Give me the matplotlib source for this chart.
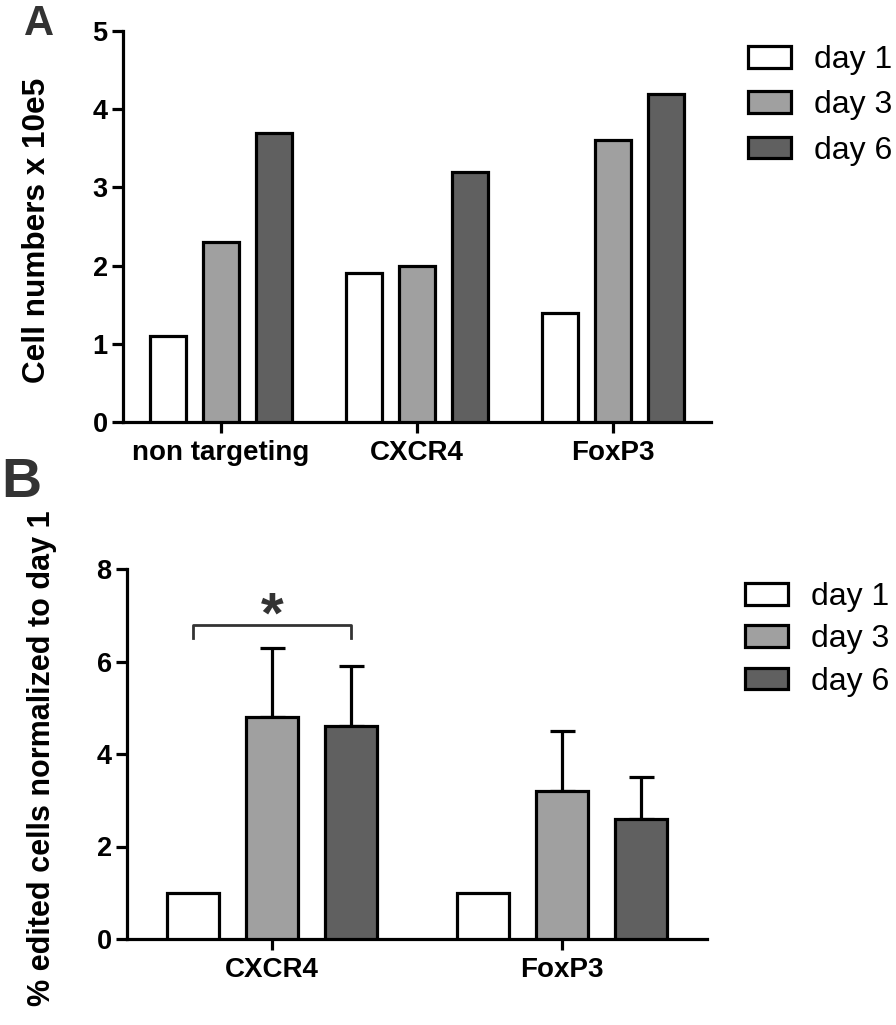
import matplotlib
matplotlib.use('Agg')
import matplotlib.pyplot as plt
import numpy as np

plt.rcParams['font.family'] = ['Liberation Sans', 'DejaVu Sans']

# data
days = ['day 1', 'day 3', 'day 6']
day_colors = ['#ffffff', '#a0a0a0', '#606060']

groups_a = ['non targeting', 'CXCR4', 'FoxP3']
cells_day1 = [1.1, 1.9, 1.4]
cells_day3 = [2.3, 2.0, 3.6]
cells_day6 = [3.7, 3.2, 4.2]

groups_b = ['CXCR4', 'FoxP3']
edited_day1 = [1.0, 1.0]
edited_day3 = [4.8, 3.2]
edited_day6 = [4.6, 2.6]
err_day3 = [1.5, 1.3]
err_day6 = [1.3, 0.9]

LW = 2.3
W, H = 896, 1025

fig = plt.figure(figsize=(W / 100, H / 100), dpi=100)


def style_axis(ax):
    ax.spines['top'].set_visible(False)
    ax.spines['right'].set_visible(False)
    ax.spines['left'].set_linewidth(LW)
    ax.spines['bottom'].set_linewidth(LW)
    ax.tick_params(axis='both', direction='out', length=8, width=LW, pad=3)
    ax.tick_params(axis='y', labelsize=19.5)
    ax.tick_params(axis='x', labelsize=20, pad=5)
    for lab in ax.get_xticklabels() + ax.get_yticklabels():
        lab.set_fontweight('bold')


def grouped_bars(ax, series, width, offset, errs=None):
    x = np.arange(len(series[0]))
    for i, vals in enumerate(series):
        pos = x + (i - 1) * offset
        ax.bar(pos, vals, width, color=day_colors[i], edgecolor='black',
               linewidth=LW, label=days[i], zorder=3)
        if errs is not None and errs[i] is not None:
            ax.errorbar(pos, vals, yerr=[np.zeros(len(vals)), errs[i]], fmt='none',
                        ecolor='black', elinewidth=LW, capsize=9, capthick=LW, zorder=2)


def add_legend(ax, left_px, top_px, spacing):
    ax.legend(loc='upper left', bbox_to_anchor=(left_px / W, 1 - top_px / H),
              bbox_transform=fig.transFigure, frameon=False, fontsize=23,
              handlelength=1.35, handleheight=0.66, handletextpad=0.72,
              labelspacing=spacing, borderpad=0, borderaxespad=0)


# panel A
ax_a = fig.add_axes([123 / W, 1 - 422 / H, (711 - 123) / W, (422 - 31) / H])
grouped_bars(ax_a, [cells_day1, cells_day3, cells_day6], 0.185, 0.27)
ax_a.set_xlim(-0.5, 2.5)
ax_a.set_ylim(0, 5)
ax_a.set_xticks(np.arange(len(groups_a)))
ax_a.set_xticklabels(groups_a)
ax_a.set_yticks([0, 1, 2, 3, 4, 5])
ax_a.set_ylabel('Cell numbers x 10e5', fontsize=22.7, fontweight='bold')
ax_a.yaxis.set_label_coords(-0.121, 0.49)
style_axis(ax_a)
add_legend(ax_a, 748, 45, 0.48)

# panel B
ax_b = fig.add_axes([127 / W, 1 - 939 / H, (707 - 127) / W, (939 - 569) / H])
grouped_bars(ax_b, [edited_day1, edited_day3, edited_day6], 0.18, 0.273,
             errs=[None, err_day3, err_day6])
ax_b.set_xlim(-0.5, 1.5)
ax_b.set_ylim(0, 8)
ax_b.set_xticks(np.arange(len(groups_b)))
ax_b.set_xticklabels(groups_b)
ax_b.set_yticks([0, 2, 4, 6, 8])
ax_b.set_ylabel('% edited cells normalized to day 1', fontsize=22, fontweight='bold')
ax_b.yaxis.set_label_coords(-0.121, 0.49)
style_axis(ax_b)
add_legend(ax_b, 745, 582, 0.39)

# significance bracket between day 1 and day 6 of CXCR4
ax_b.plot([-0.273, -0.273, 0.273, 0.273], [6.51, 6.79, 6.79, 6.51], color='#333333',
          linewidth=2.0, clip_on=False)
ax_b.text(0, 6.62, '*', ha='center', va='baseline', fontsize=42, fontweight='bold', color='#333333')

# panel letters
fig.text(39 / W, 1 - 24 / H, 'A', ha='center', va='center', fontsize=30, fontweight='bold', color='#333333')
fig.text(1 / W, 1 - 483 / H, 'B', ha='left', va='center', fontsize=40, fontweight='bold', color='#333333')

fig.savefig('out.png', dpi=100)
